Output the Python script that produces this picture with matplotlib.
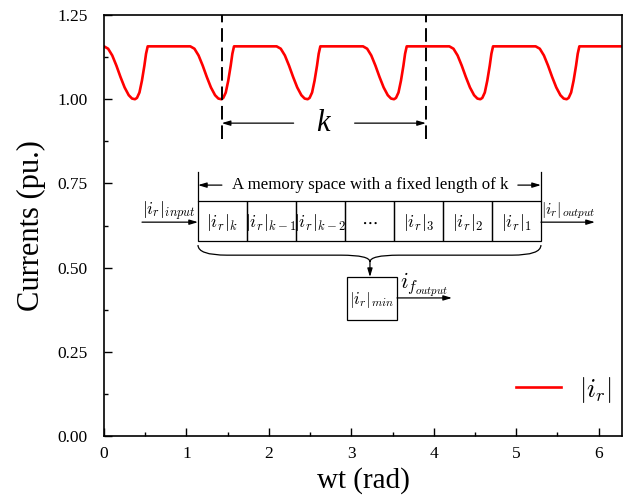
import matplotlib

matplotlib.use("Agg")
import matplotlib.pyplot as plt
from matplotlib.patches import PathPatch, Rectangle
from matplotlib.path import Path

plt.rcParams["font.family"] = ["Liberation Serif", "DejaVu Serif"]
plt.rcParams["mathtext.fontset"] = "cm"

# |i_r|, six dips per fundamental period
wt = [
    0.000, 0.050, 0.100, 0.150, 0.200, 0.250, 0.300, 0.340, 0.376, 0.400, 0.430, 0.460, 0.490, 0.510, 0.530,
    1.047, 1.097, 1.147, 1.197, 1.247, 1.297, 1.347, 1.387, 1.423, 1.447, 1.477, 1.507, 1.537, 1.557, 1.577,
    2.094, 2.144, 2.194, 2.244, 2.294, 2.344, 2.394, 2.434, 2.470, 2.494, 2.524, 2.554, 2.584, 2.604, 2.624,
    3.142, 3.192, 3.242, 3.292, 3.342, 3.392, 3.442, 3.482, 3.518, 3.542, 3.572, 3.602, 3.632, 3.652, 3.672,
    4.189, 4.239, 4.289, 4.339, 4.389, 4.439, 4.489, 4.529, 4.565, 4.589, 4.619, 4.649, 4.679, 4.699, 4.719,
    5.236, 5.286, 5.336, 5.386, 5.436, 5.486, 5.536, 5.576, 5.612, 5.636, 5.666, 5.696, 5.726, 5.746, 5.766,
    6.283,
]
ir = [
    1.157, 1.150, 1.130, 1.100, 1.066, 1.035, 1.012, 1.002, 1.000, 1.004, 1.020, 1.055, 1.100, 1.135, 1.157,
    1.157, 1.150, 1.130, 1.100, 1.066, 1.035, 1.012, 1.002, 1.000, 1.004, 1.020, 1.055, 1.100, 1.135, 1.157,
    1.157, 1.150, 1.130, 1.100, 1.066, 1.035, 1.012, 1.002, 1.000, 1.004, 1.020, 1.055, 1.100, 1.135, 1.157,
    1.157, 1.150, 1.130, 1.100, 1.066, 1.035, 1.012, 1.002, 1.000, 1.004, 1.020, 1.055, 1.100, 1.135, 1.157,
    1.157, 1.150, 1.130, 1.100, 1.066, 1.035, 1.012, 1.002, 1.000, 1.004, 1.020, 1.055, 1.100, 1.135, 1.157,
    1.157, 1.150, 1.130, 1.100, 1.066, 1.035, 1.012, 1.002, 1.000, 1.004, 1.020, 1.055, 1.100, 1.135, 1.157,
    1.157,
]

window_edges = [1.428, 3.905]
cell_labels = [
    r"$|i_r|_k$", r"$|i_r|_{k-1}$", r"$|i_r|_{k-2}$", r"$\cdots$",
    r"$|i_r|_3$", r"$|i_r|_2$", r"$|i_r|_1$",
]
xticks = [0, 1, 2, 3, 4, 5, 6]
yticks = [0.00, 0.25, 0.50, 0.75, 1.00, 1.25]


def arrow(ax, x0, y0, x1, y1):
    ax.annotate("", xy=(x1, y1), xytext=(x0, y0),
                arrowprops=dict(arrowstyle="-|>,head_length=0.5,head_width=0.15",
                                color="black", lw=0.9, shrinkA=0, shrinkB=0))


def main():
    fig = plt.figure(figsize=(6.33, 5.01), dpi=100)
    ax = fig.add_axes([0.1643, 0.1297, 0.8183, 0.8403])

    ax.plot(wt, ir, color="red", lw=1.9, label=r"$|i_r|$")

    # sliding window markers
    for xe in window_edges:
        ax.plot([xe, xe], [0.882, 1.25], color="black", lw=1.4,
                dashes=(7, 3))
    arrow(ax, 2.30, 0.929, window_edges[0], 0.929)
    arrow(ax, 3.04, 0.929, window_edges[1], 0.929)
    ax.text(2.66, 0.929, "k", style="italic", fontsize=22,
            ha="center", va="center")

    # memory block diagram
    bx0, bx1, by0, by1 = 1.140, 5.300, 0.579, 0.698
    cw = (bx1 - bx0) / len(cell_labels)
    for i, lab in enumerate(cell_labels):
        ax.add_patch(Rectangle((bx0 + i * cw, by0), cw, by1 - by0,
                               fill=False, ec="black", lw=0.9))
        ax.text(bx0 + (i + 0.5) * cw, (by0 + by1) / 2 - 0.005, lab,
                fontsize=13, ha="center", va="center")

    for xe in [bx0, bx1]:
        ax.plot([xe, xe], [by1, 0.784], color="black", lw=0.9)
    ax.text(3.226, 0.745, "A memory space with a fixed length of k",
            fontsize=12.2, ha="center", va="center")
    arrow(ax, 1.43, 0.745, bx0, 0.745)
    arrow(ax, 5.02, 0.745, bx1, 0.745)

    arrow(ax, 0.461, 0.635, bx0, 0.635)
    ax.text(0.78, 0.668, r"$|i_r|_{input}$", fontsize=12.5,
            ha="center", va="center")
    arrow(ax, bx1, 0.635, 5.955, 0.635)
    ax.text(5.63, 0.668, r"$|i_r|_{output}$", fontsize=11.5,
            ha="center", va="center")

    # curly brace
    xm, yt, yb, ytip = 3.226, 0.567, 0.537, 0.517
    verts = [
        (bx0, yt), (bx0, yb), (bx0 + 0.35, yb),
        (xm - 0.35, yb),
        (xm, yb), (xm, ytip),
        (xm, yb), (xm + 0.35, yb),
        (bx1 - 0.35, yb),
        (bx1, yb), (bx1, yt),
    ]
    codes = [
        Path.MOVETO, Path.CURVE3, Path.CURVE3,
        Path.LINETO,
        Path.CURVE3, Path.CURVE3,
        Path.CURVE3, Path.CURVE3,
        Path.LINETO,
        Path.CURVE3, Path.CURVE3,
    ]
    ax.add_patch(PathPatch(Path(verts, codes), fill=False, ec="black", lw=0.9))
    arrow(ax, xm, ytip, xm, 0.472)

    ax.add_patch(Rectangle((2.947, 0.344), 0.607, 0.128,
                           fill=False, ec="black", lw=0.9))
    ax.text(3.25, 0.405, r"$|i_r|_{min}$", fontsize=12,
            ha="center", va="center")
    arrow(ax, 3.554, 0.410, 4.221, 0.410)
    ax.text(3.88, 0.448, r"$i_{f_{output}}$", fontsize=16,
            ha="center", va="center")

    ax.set_xlim(0, 6.283)
    ax.set_ylim(0, 1.25)
    ax.set_xticks(xticks)
    ax.set_yticks(yticks)
    ax.set_yticklabels([f"{v:.2f}" for v in yticks])
    ax.set_xticks([0.5, 1.5, 2.5, 3.5, 4.5, 5.5], minor=True)
    ax.set_yticks([0.125, 0.375, 0.625, 0.875, 1.125], minor=True)
    ax.tick_params(which="both", direction="in", top=False, right=False,
                   labelsize=12.5, width=1.0)
    ax.tick_params(which="major", length=6)
    ax.tick_params(which="minor", length=3)
    ax.tick_params(axis="y", pad=12)
    ax.tick_params(axis="x", pad=7)
    for sp in ax.spines.values():
        sp.set_linewidth(1.2)

    ax.set_xlabel("wt (rad)", fontsize=21, labelpad=4)
    ax.set_ylabel("Currents (pu.)", fontsize=22, labelpad=8)

    ax.legend(loc="center right", bbox_to_anchor=(0.98, 0.11), frameon=False,
              fontsize=19, handlelength=1.7, handletextpad=0.7,
              borderaxespad=0, borderpad=0)

    fig.savefig("out.png", dpi=100)


if __name__ == "__main__":
    main()
